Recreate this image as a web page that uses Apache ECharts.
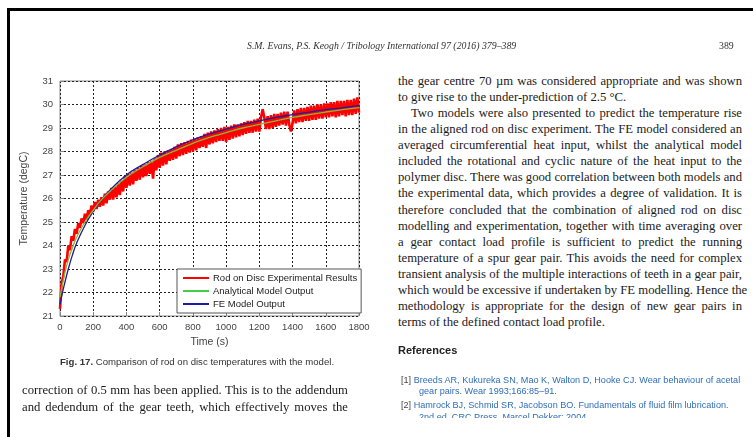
<!DOCTYPE html>
<html>
<head>
<meta charset="utf-8">
<script src="https://cdn.jsdelivr.net/npm/echarts@6/dist/echarts.min.js"></script>
<style>
html,body{margin:0;padding:0;background:#fff;width:753px;height:437px;overflow:hidden;}
#page{position:absolute;left:0;top:0;width:753px;height:437px;}
#chart{position:absolute;left:0;top:0;width:390px;height:437px;}
.bt{position:absolute;font-family:"Liberation Serif",serif;font-size:12.7px;color:#1a1a1a;white-space:nowrap;}
.j{text-align:justify;text-align-last:justify;}
.hd{position:absolute;font-family:"Liberation Serif",serif;font-style:italic;font-size:9.8px;color:#333;white-space:nowrap;}
.ref{position:absolute;font-family:"Liberation Sans",Arial,sans-serif;font-size:9.1px;color:#2f6eb5;white-space:nowrap;}
.ref b{font-weight:normal;color:#444;}
</style>
</head>
<body>
<div id="page">
  <div style="position:absolute;left:7px;top:8px;width:746px;height:2.5px;background:#000"></div>
  <div style="position:absolute;left:7px;top:8px;width:2.5px;height:429px;background:#000"></div>
</div>
<div id="chart"></div>
<div id="text"></div>
<script>
// ---- data ----
const xTicks = [0, 200, 400, 600, 800, 1000, 1200, 1400, 1600, 1800];
const yTicks = [21, 22, 23, 24, 25, 26, 27, 28, 29, 30, 31];
const seriesNames = ['Rod on Disc Experimental Results', 'Analytical Model Output', 'FE Model Output'];
// experimental record, one sample every 10 s from 0 s to 1800 s
const expStep = 10;
const expTemp = [
  21.3, 22.4, 22.7, 23.4, 23.3, 24.0, 23.8, 24.4, 24.2, 24.7, 24.5,
  24.95, 24.75, 25.15, 24.95, 25.35, 25.1, 25.5, 25.3, 25.7, 25.45,
  25.85, 25.55, 25.95, 25.65, 26.05, 25.7, 26.2, 25.8, 26.3, 25.95,
  26.45, 25.95, 26.5, 26.05, 26.65, 26.15, 26.75, 26.3, 26.95, 26.45,
  27.05, 26.55, 27.1, 26.6, 27.2, 26.75, 27.3, 26.8, 27.4, 26.9,
  27.45, 26.95, 27.55, 27.05, 27.6, 26.85, 27.7, 27.2, 27.85, 27.3,
  27.95, 27.4, 28.0, 27.45, 28.05, 27.6, 28.1, 27.65, 28.2, 27.7,
  28.3, 27.8, 28.35, 27.85, 28.4, 27.9, 28.45, 27.95, 28.5, 28.0,
  28.55, 28.05, 28.6, 28.15, 28.65, 28.2, 28.75, 28.15, 28.8, 28.3,
  28.85, 28.35, 28.9, 28.4, 28.95, 28.45, 29.0, 28.45, 29.05, 28.4,
  29.05, 28.5, 29.1, 28.55, 29.15, 28.6, 29.15, 28.65, 29.2, 28.7,
  29.25, 28.75, 29.3, 28.8, 29.3, 28.8, 29.35, 28.85, 29.4, 28.85,
  29.45, 29.8, 29.45, 28.95, 29.5, 28.95, 29.55, 29.0, 29.6, 29.05,
  29.6, 29.1, 29.65, 29.15, 29.7, 29.1, 29.7, 29.15, 28.85, 29.2,
  29.75, 29.2, 29.8, 29.25, 29.85, 29.25, 29.85, 29.3, 29.9, 29.3,
  29.95, 29.35, 29.95, 29.35, 30.0, 29.4, 30.0, 29.4, 30.05, 29.45,
  30.05, 29.45, 30.1, 29.5, 30.1, 29.45, 30.15, 29.5, 30.15, 29.55,
  30.15, 29.5, 30.2, 29.55, 30.2, 29.55, 30.25, 29.6, 30.3, 29.65
];
const modelTime = [0, 25, 50, 75, 100, 150, 200, 250, 300, 400, 500, 600, 700, 800, 900, 1000, 1100, 1200, 1300, 1400, 1500, 1600, 1700, 1800];
const analyticalTemp = [21.8, 22.7, 23.4, 23.9, 24.35, 25.0, 25.5, 25.95, 26.3, 26.9, 27.35, 27.75, 28.05, 28.35, 28.6, 28.8, 29.0, 29.15, 29.3, 29.45, 29.57, 29.68, 29.78, 29.87];
const feTemp = [21.5, 22.3, 23.0, 23.6, 24.1, 24.85, 25.45, 25.95, 26.35, 27.0, 27.45, 27.85, 28.2, 28.5, 28.75, 28.95, 29.15, 29.3, 29.45, 29.57, 29.68, 29.78, 29.86, 29.95];

// ---- page text ----
const headerText = 'S.M. Evans, P.S. Keogh / Tribology International 97 (2016) 379–389';
const pageNumber = '389';
const captionBold = 'Fig. 17.';
const captionText = ' Comparison of rod on disc temperatures with the model.';
const leftLines = [
  'correction of 0.5 mm has been applied. This is to the addendum',
  'and dedendum of the gear teeth, which effectively moves the'
];
const rightLines = [
  ['the gear centre 70 µm was considered appropriate and was shown', 'j', 0],
  ['to give rise to the under-prediction of 2.5 °C.', 'l', 0],
  ['Two models were also presented to predict the temperature rise', 'j', 13],
  ['in the aligned rod on disc experiment. The FE model considered an', 'j', 0],
  ['averaged circumferential heat input, whilst the analytical model', 'j', 0],
  ['included the rotational and cyclic nature of the heat input to the', 'j', 0],
  ['polymer disc. There was good correlation between both models and', 'j', 0],
  ['the experimental data, which provides a degree of validation. It is', 'j', 0],
  ['therefore concluded that the combination of aligned rod on disc', 'j', 0],
  ['modelling and experimentation, together with time averaging over', 'j', 0],
  ['a gear contact load profile is sufficient to predict the running', 'j', 0],
  ['temperature of a spur gear pair. This avoids the need for complex', 'j', 0],
  ['transient analysis of the multiple interactions of teeth in a gear pair,', 'j', 0],
  ['which would be excessive if undertaken by FE modelling. Hence the', 'j', 0],
  ['methodology is appropriate for the design of new gear pairs in', 'j', 0],
  ['terms of the defined contact load profile.', 'l', 0]
];
const refHeading = 'References';
const refLines = [
  ['[1]', 'Breeds AR, Kukureka SN, Mao K, Walton D, Hooke CJ. Wear behaviour of acetal'],
  ['', 'gear pairs. Wear 1993;166:85–91.'],
  ['[2]', 'Hamrock BJ, Schmid SR, Jacobson BO. Fundamentals of fluid film lubrication.'],
  ['', '2nd ed. CRC Press, Marcel Dekker; 2004.']
];

// build text
const tx = document.getElementById('text');
function add(html, style, cls) {
  const d = document.createElement('div');
  d.className = cls; d.style.cssText = style; d.innerHTML = html; tx.appendChild(d); return d;
}
add(headerText, 'left:247px;top:40px;', 'hd');
add(pageNumber, 'left:719px;top:40px;font-style:normal;', 'hd');
leftLines.forEach((s, i) => add(s, 'left:22px;width:326px;top:' + (383 + i * 16.5) + 'px;', 'bt j'));
rightLines.forEach((r, i) => {
  const left = 398 + r[2];
  add(r[0], 'left:' + left + 'px;width:' + (344 - r[2]) + 'px;top:' + (74 + i * 16.07) + 'px;', 'bt' + (r[1] === 'j' ? ' j' : ''));
});
add('<b>' + captionBold + '</b>' + captionText,
  'left:60px;top:356px;font-family:"Liberation Sans",Arial,sans-serif;font-size:9.6px;color:#333;', 'bt');
add(refHeading, 'left:398px;top:344px;font-family:"Liberation Sans",Arial,sans-serif;font-weight:bold;font-size:11px;color:#222;', 'bt');
const refTops = [375, 386, 400, 412];
refLines.forEach((r, i) => {
  add((r[0] ? '<b>' + r[0] + '</b> ' : '') + r[1],
    'left:' + (r[0] ? 401 : 419) + 'px;top:' + refTops[i] + 'px;' + (i === 3 ? 'height:6px;overflow:hidden;' : ''), 'ref');
});

// ---- chart ----
const chart = echarts.init(document.getElementById('chart'), null, {renderer: 'canvas'});
const expData = expTemp.map((v, i) => [i * expStep, v]);
const anData = modelTime.map((t, i) => [t, analyticalTemp[i]]);
const feData = modelTime.map((t, i) => [t, feTemp[i]]);
const axisLabelStyle = {color: '#444', fontSize: 9.5, fontFamily: 'Arial, "Liberation Sans", sans-serif'};
chart.setOption({
  animation: false,
  backgroundColor: 'transparent',
  grid: {left: 60, top: 81, width: 299, height: 235, show: true, borderColor: '#8a8a8a', borderWidth: 1, backgroundColor: '#fff'},
  legend: {
    left: 177, top: 269, orient: 'vertical',
    data: seriesNames,
    backgroundColor: '#fff', borderColor: '#555', borderWidth: 1,
    padding: [4, 4, 4, 6], itemGap: 3, itemWidth: 26, itemHeight: 2, icon: 'rect',
    textStyle: {color: '#222', fontSize: 9.5, fontFamily: 'Arial, "Liberation Sans", sans-serif', padding: [0, 0, 0, -1]}
  },
  xAxis: {
    type: 'value', min: 0, max: 1800, interval: 200,
    name: 'Time (s)', nameLocation: 'middle', nameGap: 19,
    nameTextStyle: {color: '#444', fontSize: 10.5, fontFamily: 'Arial, "Liberation Sans", sans-serif'},
    axisLine: {show: false},
    axisTick: {show: true, inside: true, length: 4, lineStyle: {color: '#888'}},
    axisLabel: Object.assign({margin: 6, formatter: v => xTicks.includes(v) ? String(v) : ''}, axisLabelStyle),
    splitLine: {show: true, lineStyle: {color: '#222', width: 1, type: [2, 2]}}
  },
  yAxis: {
    type: 'value', min: 21, max: 31, interval: 1,
    name: 'Temperature (degC)', nameLocation: 'middle', nameGap: 30, nameRotate: 90,
    nameTextStyle: {color: '#444', fontSize: 10.5, fontFamily: 'Arial, "Liberation Sans", sans-serif'},
    axisLine: {show: false},
    axisTick: {show: true, inside: true, length: 4, lineStyle: {color: '#888'}},
    axisLabel: Object.assign({margin: 7, formatter: v => yTicks.includes(v) ? String(v) : ''}, axisLabelStyle),
    splitLine: {show: true, lineStyle: {color: '#222', width: 1, type: [2, 2]}}
  },
  series: [
    {name: seriesNames[0], type: 'line', data: expData, showSymbol: false, color: '#ff0000',
      lineStyle: {color: '#ff0000', width: 2.6}, z: 2},
    {name: seriesNames[2], type: 'line', data: feData, showSymbol: false, smooth: true, color: '#1c1c9c',
      lineStyle: {color: '#1c1c9c', width: 1.3}, z: 3},
    {name: seriesNames[1], type: 'line', data: anData, showSymbol: false, smooth: true, color: '#44cc44',
      lineStyle: {color: '#86b83a', width: 1.3}, z: 4}
  ]
});
</script>
</body>
</html>
